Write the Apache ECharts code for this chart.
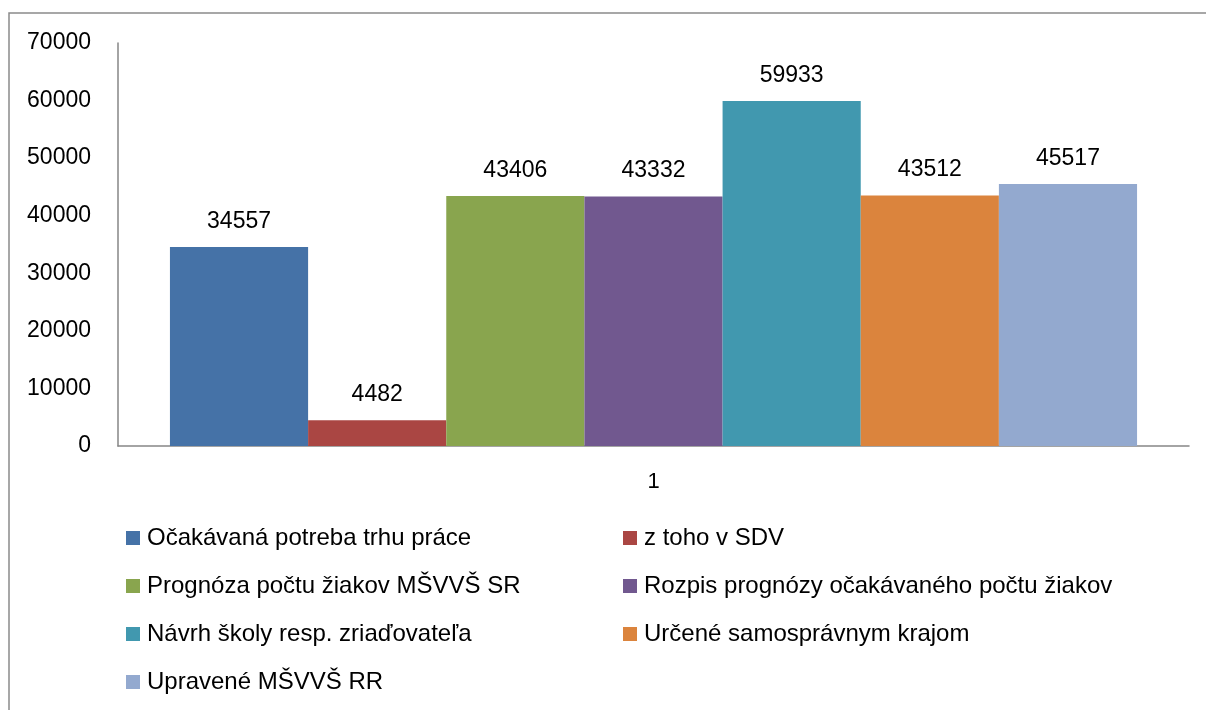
<!DOCTYPE html>
<html>
<head>
<meta charset="utf-8">
<script src="https://cdn.jsdelivr.net/npm/echarts@6/dist/echarts.min.js"></script>
<style>
  html, body { margin: 0; padding: 0; background: #fff; }
  #chart { width: 1206px; height: 710px; }
</style>
</head>
<body>
<div id="chart"></div>
<script>
const categories = ["1"];
const seriesNames = [
    "Očakávaná potreba trhu práce",
    "z toho v SDV",
    "Prognóza počtu žiakov MŠVVŠ SR",
    "Rozpis prognózy očakávaného počtu žiakov",
    "Návrh školy resp. zriaďovateľa",
    "Určené samosprávnym krajom",
    "Upravené MŠVVŠ RR"
];
const seriesValues = [34557, 4482, 43406, 43332, 59933, 43512, 45517];
const colors = ["#4572A7", "#AA4643", "#89A54E", "#71588F", "#4198AF", "#DB843D", "#93A9CF"];

const font = "'Liberation Sans', Arial, sans-serif";

const chart = echarts.init(document.getElementById("chart"));

const series = seriesNames.map((name, i) => ({
    name: name,
    type: "bar",
    data: [seriesValues[i]],
    barGap: "0%",
    barCategoryGap: "9.7%",
    itemStyle: { color: colors[i] },
    label: {
        show: true,
        position: "top",
        distance: 14,
        color: "#000",
        fontFamily: font,
        fontSize: 23
    }
}));

const legendBase = {
    orient: "vertical",
    itemWidth: 14,
    itemHeight: 14,
    itemGap: 24,
    icon: "rect",
    textStyle: { fontFamily: font, fontSize: 24, color: "#000", padding: [0, 0, 0, 2] },
    selectedMode: false
};

chart.setOption({
    animation: false,
    color: colors,
    graphic: [{
        type: "rect",
        shape: { x: 9, y: 13, width: 1400, height: 900 },
        style: { fill: "none", stroke: "#8a8a8a", lineWidth: 1.5 }
    }],
    grid: { left: 118, right: 17, top: 43, bottom: 264 },
    xAxis: {
        type: "category",
        data: categories,
        axisLine: { lineStyle: { color: "#868686", width: 1.5 } },
        axisTick: { show: false },
        axisLabel: { color: "#000", fontFamily: font, fontSize: 22, margin: 25 }
    },
    yAxis: {
        type: "value",
        min: 0,
        max: 70000,
        interval: 10000,
        axisLine: { show: true, lineStyle: { color: "#868686", width: 1.5 } },
        axisTick: { show: false },
        splitLine: { show: false },
        axisLabel: {
            color: "#000", fontFamily: font, fontSize: 23, margin: 27,
            padding: [8, 0, 0, 0],
            formatter: (v) => String(v)
        }
    },
    legend: [
        Object.assign({}, legendBase, {
            left: 121, top: 521,
            data: [seriesNames[0], seriesNames[2], seriesNames[4], seriesNames[6]]
        }),
        Object.assign({}, legendBase, {
            left: 618, top: 521,
            data: [seriesNames[1], seriesNames[3], seriesNames[5]]
        })
    ],
    series: series
});
</script>
</body>
</html>
